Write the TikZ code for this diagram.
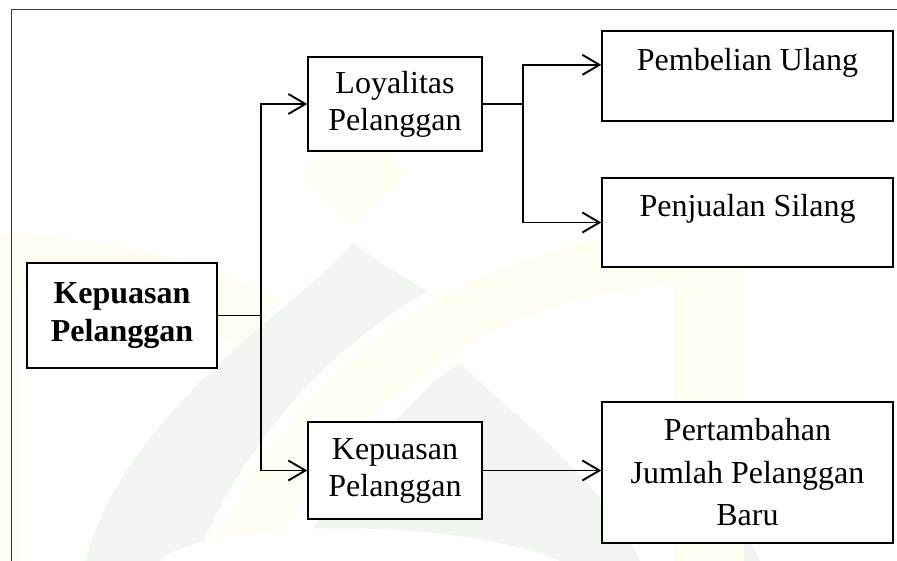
\documentclass[tikz,border=0pt]{standalone}
\usepackage{fontspec}
\setmainfont{Liberation Serif}
\usetikzlibrary{arrows.meta,calc}
\definecolor{wmyellow}{RGB}{255,253,241}
\definecolor{wmgreen}{RGB}{241,247,240}
\definecolor{framegray}{RGB}{60,60,60}

\begin{document}
\begin{tikzpicture}[x=1pt,y=-1pt,
  box/.style={draw=black, line width=1.5pt, fill=white, inner sep=0pt,
    align=center, font=\fontsize{32}{37}\selectfont},
  widebox/.style={box, minimum width=291pt},
  conn/.style={line width=1.9pt},
  arr/.style={conn, -{Straight Barb[length=17pt,width=20pt,line width=1.9pt]}},
]
\path[use as bounding box] (0,0) rectangle (897,561);

% faint background emblem
\begin{scope}
  \clip (0,0) rectangle (897,561);
  \fill[wmyellow] (0,233) rectangle (20,561);
  \fill[wmyellow] (0,233) .. controls (110,238) and (210,262) .. (282,300)
    -- (243,348) .. controls (170,310) and (80,292) .. (0,290) -- cycle;
  \fill[wmyellow] (353,122) -- (407,175) -- (353,228) -- (300,175) -- cycle;
  \fill[wmgreen] (353,242) .. controls (310,300) and (130,400) .. (85,561)
    -- (760,561) .. controls (700,420) and (420,300) .. (353,242) -- cycle;
  \begin{scope}
    \clip (0,0) rectangle (744,561);
    \fill[white] (700,760) circle[radius=542];
    \fill[wmyellow, even odd rule] (700,760) circle[radius=530]
      (700,760) circle[radius=475];
  \end{scope}
  \fill[wmyellow] (675,260) rectangle (744,561);
  \begin{scope}
    \clip (700,760) circle[radius=463];
    \fill[wmgreen] (457,358) .. controls (420,400) and (330,470) .. (300,561)
      -- (640,561) .. controls (600,470) and (490,400) .. (457,358) -- cycle;
  \end{scope}
  \fill[white] (160,561) .. controls (200,520) and (450,515) .. (560,561) -- cycle;
\end{scope}

% page frame
\draw[framegray, line width=1pt] (11,561) -- (11,10) -- (897,10);

% boxes
\node[box, minimum width=190pt, minimum height=105pt,
  font=\fontsize{32}{38}\selectfont\bfseries] (kp) at (122,315.5)
  {Kepuasan\\Pelanggan};
\node[box, minimum width=174pt, minimum height=94pt] (loy) at (395,104)
  {Loyalitas\\Pelanggan};
\node[box, minimum width=174pt, minimum height=97pt] (kp2) at (395,470.5)
  {Kepuasan\\Pelanggan};
\node[widebox, text height=40pt, text depth=50pt, anchor=base] (pemb)
  at (747.5,71) {Pembelian Ulang};
\node[widebox, text height=39pt, text depth=50pt, anchor=base] (penj)
  at (747.5,217) {Penjualan Silang};
\node[widebox, minimum height=141pt, font=\fontsize{32}{42.5}\selectfont]
  (pert) at (747.5,472.5) {Pertambahan\\Jumlah Pelanggan\\Baru};

% connectors
\coordinate (j1) at ($(kp.east)+(43,0)$);
\coordinate (j2) at ($(loy.east)+(40,0)$);
\draw[conn] (kp.east) -- (j1);
\draw[arr] (j1) |- (loy.west);
\draw[arr] (j1) |- (kp2.west);
\draw[conn] (loy.east) -- (j2);
\draw[arr] (j2) |- ($(pemb.north west)!0.378!(pemb.south west)$);
\draw[arr] (j2) |- (penj.west);
\draw[arr] (kp2.east) -- (kp2.east -| pert.west);
\end{tikzpicture}
\end{document}
